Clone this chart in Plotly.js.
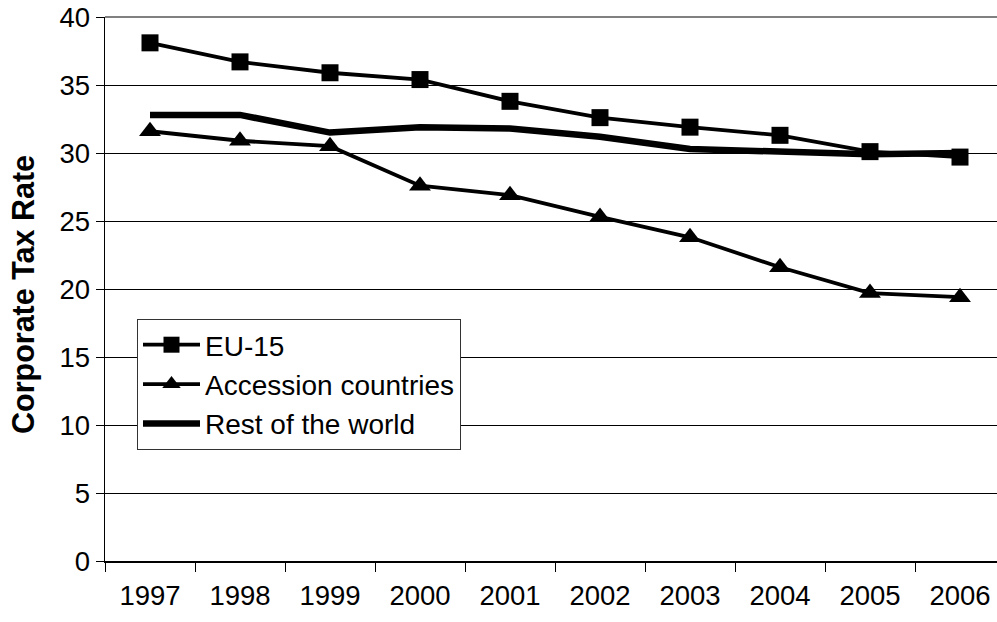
<!DOCTYPE html>
<html>
<head>
<meta charset="utf-8">
<script src="https://cdn.plot.ly/plotly-3.0.1.min.js"></script>
<style>html,body{margin:0;padding:0;background:#fff;}#chart{width:997px;height:622px;}</style>
</head>
<body>
<div id="chart"></div>
<script>
const years = ["1997","1998","1999","2000","2001","2002","2003","2004","2005","2006"];
const eu15 = [38.1, 36.7, 35.9, 35.4, 33.8, 32.6, 31.9, 31.3, 30.1, 29.7];
const accession = [31.6, 30.9, 30.5, 27.6, 26.9, 25.3, 23.8, 21.6, 19.7, 19.4];
const restOfWorld = [32.8, 32.8, 31.5, 31.9, 31.8, 31.2, 30.3, 30.1, 29.9, 30.0];
const yTicks = [0, 5, 10, 15, 20, 25, 30, 35, 40];
const yTitle = "Corporate Tax Rate";

const FONT = "Liberation Sans, Arial, sans-serif";

const traces = [
  {x: years, y: eu15, name: "EU-15", type: "scatter", mode: "lines+markers",
   legendgroup: "a",
   line: {color: "#000", width: 3.8},
   marker: {symbol: "square", size: 17, color: "#000"}},
  {x: years, y: accession, name: "Accession countries", type: "scatter", mode: "lines+markers",
   legendgroup: "b",
   line: {color: "#000", width: 3.8},
   marker: {symbol: "triangle-up", size: 19, color: "#000"}},
  {x: years, y: restOfWorld, name: "Rest of the world", type: "scatter", mode: "lines",
   legendgroup: "c",
   line: {color: "#000", width: 6.5}}
];

const plotW = 997 - 105;
const plotH = 561 - 17;
const catW = 90;

const layout = {
  width: 997, height: 622,
  margin: {l: 105, r: 0, t: 17, b: 61, pad: 0},
  paper_bgcolor: "#fff", plot_bgcolor: "#fff",
  font: {family: FONT, size: 28, color: "#000"},
  showlegend: true,
  legend: {
    x: (137 - 105) / plotW, y: (561 - 319) / plotH, xanchor: "left", yanchor: "top",
    bordercolor: "#333", borderwidth: 1, bgcolor: "#fff",
    font: {family: FONT, size: 28, color: "#000"},
    tracegroupgap: 4, itemwidth: 57, traceorder: "normal"
  },
  xaxis: {
    type: "category",
    range: [-0.5, -0.5 + plotW / catW],
    tickson: "boundaries",
    ticks: "outside", ticklen: 9, tickcolor: "#000", tickwidth: 1,
    ticklabelstandoff: 9,
    showline: true, linecolor: "#000", linewidth: 1.5,
    showgrid: false, zeroline: false,
    tickfont: {family: FONT, size: 27.5, color: "#000"},
    fixedrange: true
  },
  yaxis: {
    range: [0, 40],
    tickvals: yTicks,
    ticks: "outside", ticklen: 8, tickcolor: "#000", tickwidth: 1,
    showline: true, linecolor: "#000", linewidth: 1.5,
    showgrid: true, gridcolor: "#000", gridwidth: 1,
    zeroline: false,
    tickfont: {family: FONT, size: 27.5, color: "#000"},
    fixedrange: true
  },
  annotations: [
    {text: "<b>" + yTitle + "</b>", xref: "paper", yref: "paper",
     x: (23 - 105) / plotW, y: (561 - 295) / plotH, xanchor: "center", yanchor: "middle",
     textangle: -90, showarrow: false,
     font: {family: FONT, size: 30.5, color: "#000"}}
  ],
  shapes: [
    {type: "line", xref: "paper", yref: "paper", x0: 0, x1: 1, y0: 1, y1: 1,
     line: {color: "#808080", width: 2}}
  ]
};

Plotly.newPlot("chart", traces, layout, {displayModeBar: false, staticPlot: true});
</script>
</body>
</html>
